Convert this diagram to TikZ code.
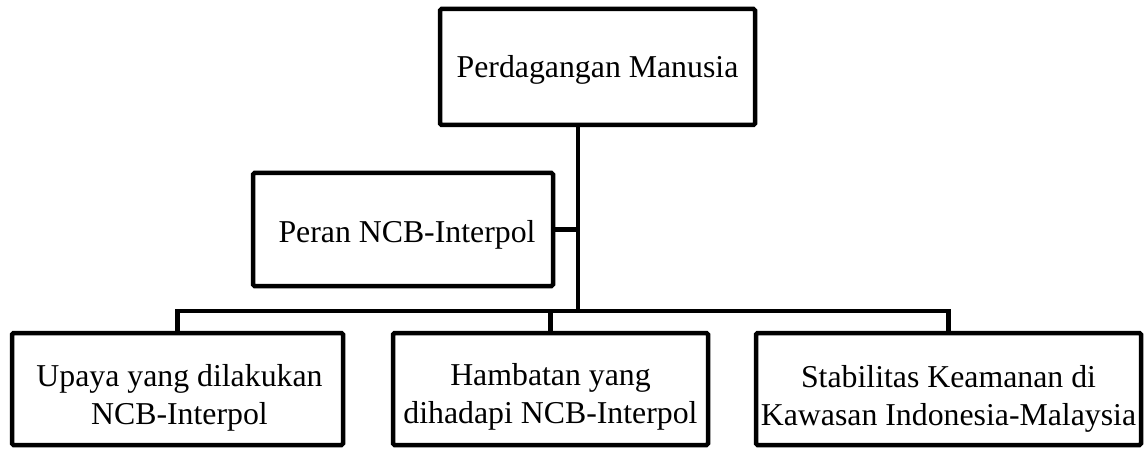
\documentclass[tikz,border=0pt]{standalone}
\usepackage{fontspec}
\setmainfont{Liberation Serif}
\usetikzlibrary{positioning}

\tikzset{
  box/.style={draw, line width=4.5pt, rounded corners=1.5pt, inner sep=0pt},
  txt/.style={align=center, inner sep=0pt, font=\fontsize{31.8}{38}\selectfont},
  link/.style={line width=4.5pt}
}

\begin{document}
\begin{tikzpicture}[x=1pt, y=1pt]
    \useasboundingbox (0,0) rectangle (1146,448);
    % boxes
    \node [box, minimum width=315, minimum height=116] (top) at (597.5,381) {};
    \node [box, minimum width=300, minimum height=113] (peran) at (403,218.5) {};
    \node [box, minimum width=331, minimum height=112] (upaya) at (177.5,59) {};
    \node [box, minimum width=315, minimum height=112] (hambat) at (550.5,59) {};
    \node [box, minimum width=385, minimum height=112] (stab) at (948.5,59) {};
    % texts
    \node [txt] (ttop) at ([yshift=-3]top.center) {Perdagangan Manusia};
    \node [txt] (tperan) at ([xshift=4, yshift=-5]peran.center) {Peran NCB-Interpol};
    \node [txt] (tupaya) at ([xshift=2, yshift=-9]upaya.center) {Upaya yang dilakukan\\NCB-Interpol};
    \node [txt] (thambat) at ([yshift=-8]hambat.center) {Hambatan yang\\dihadapi NCB-Interpol};
    \node [txt] (tstab) at ([yshift=-10]stab.center) {Stabilitas Keamanan di\\Kawasan Indonesia-Malaysia};
    % connectors
    \coordinate (split) at (578,137);
    \draw [link] (top.south -| split) -- (split);
    \draw [link] (peran.east) -- (peran.east -| split);
    \draw [link] (upaya.north) -- (upaya.north |- split) -- (stab.north |- split) -- (stab.north);
    \draw [link] (hambat.north) -- (hambat.north |- split);
\end{tikzpicture}
\end{document}
